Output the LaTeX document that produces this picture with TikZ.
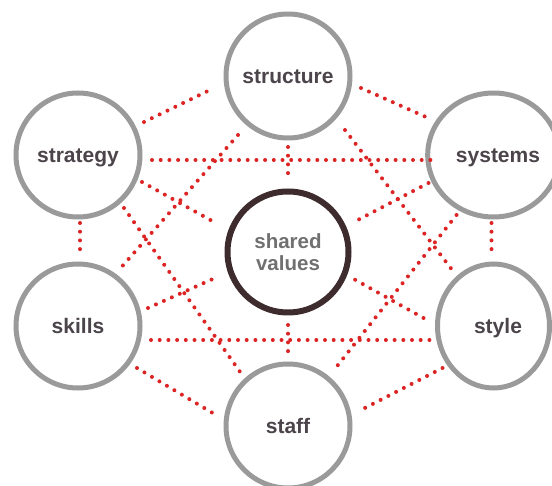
\documentclass[tikz,border=0pt]{standalone}
\usepackage{fontspec}
\setmainfont{Liberation Sans}
\usetikzlibrary{shapes.geometric}
\definecolor{ringgray}{HTML}{9A9A9A}
\definecolor{coregray}{HTML}{3D2B2E}
\definecolor{labelcol}{HTML}{4B444A}
\definecolor{corelabel}{HTML}{707070}
\definecolor{dotred}{HTML}{DC2424}
\begin{document}
\begin{tikzpicture}[x=1pt,y=-1pt,
  element/.style={circle, draw=ringgray, line width=5pt, minimum size=124pt, inner sep=0pt,
    font=\fontsize{21}{22}\selectfont\bfseries, text=labelcol, text height=15pt, text depth=0pt},
  sideelement/.style={element, ellipse, minimum width=112pt, minimum height=124pt},
  core/.style={circle, draw=coregray, line width=6pt, minimum size=121pt, inner sep=0pt,
    align=center, text=corelabel, font=\fontsize{20.5}{22}\selectfont\bfseries},
  link/.style={draw=dotred, line width=4pt, line cap=round, dash pattern=on 0pt off 8.7pt}]
\useasboundingbox (0,0) rectangle (552,486);
\fill[white] (0,0) rectangle (552,486);

\node[element] (structure) at (288,76) {structure};
\node[element] (strategy) at (78,155) {strategy};
\node[sideelement] (systems) at (493.5,155) {\hspace*{9pt}systems};
\node[core] (shared) at (288,252) {shared\\values};
\node[element] (skills) at (78,326) {skills};
\node[sideelement] (style) at (493.5,326) {\hspace*{9pt}style};
\node[element] (staff) at (288,426) {staff};

\draw[link] ([shift={(66,-33)}]strategy.center) -- ([shift={(-76,13)}]structure.center);
\draw[link] ([shift={(73,12)}]structure.center) -- ([shift={(-63,-36)}]systems.center);
\draw[link] ([shift={(74,5)}]strategy.center) -- ([shift={(-63,5)}]systems.center);
\draw[link] ([shift={(0,71)}]structure.center) -- ([shift={(0,-75)}]shared.center);
\draw[link] ([shift={(64,27)}]strategy.center) -- ([shift={(-74,-30)}]shared.center);
\draw[link] ([shift={(-65,28)}]systems.center) -- ([shift={(66,-30)}]shared.center);
\draw[link] ([shift={(-50,59)}]structure.center) -- ([shift={(40,-55)}]skills.center);
\draw[link] ([shift={(57,54)}]structure.center) -- ([shift={(-39,-53)}]style.center);
\draw[link] ([shift={(46,53)}]strategy.center) -- ([shift={(-45,-50)}]staff.center);
\draw[link] ([shift={(-37,60)}]systems.center) -- ([shift={(46,-56)}]staff.center);
\draw[link] ([shift={(2,68)}]strategy.center) -- ([shift={(2,-71)}]skills.center);
\draw[link] ([shift={(-2,68)}]systems.center) -- ([shift={(-2,-71)}]style.center);
\draw[link] ([shift={(70,-18)}]skills.center) -- ([shift={(-73,26)}]shared.center);
\draw[link] ([shift={(-70,-8)}]style.center) -- ([shift={(64,26)}]shared.center);
\draw[link] ([shift={(73,14)}]skills.center) -- ([shift={(-63,14)}]style.center);
\draw[link] ([shift={(0,73)}]shared.center) -- ([shift={(0,-71)}]staff.center);
\draw[link] ([shift={(59,42)}]skills.center) -- ([shift={(-72,-11)}]staff.center);
\draw[link] ([shift={(-51,42)}]style.center) -- ([shift={(73,-16)}]staff.center);
\end{tikzpicture}
\end{document}
